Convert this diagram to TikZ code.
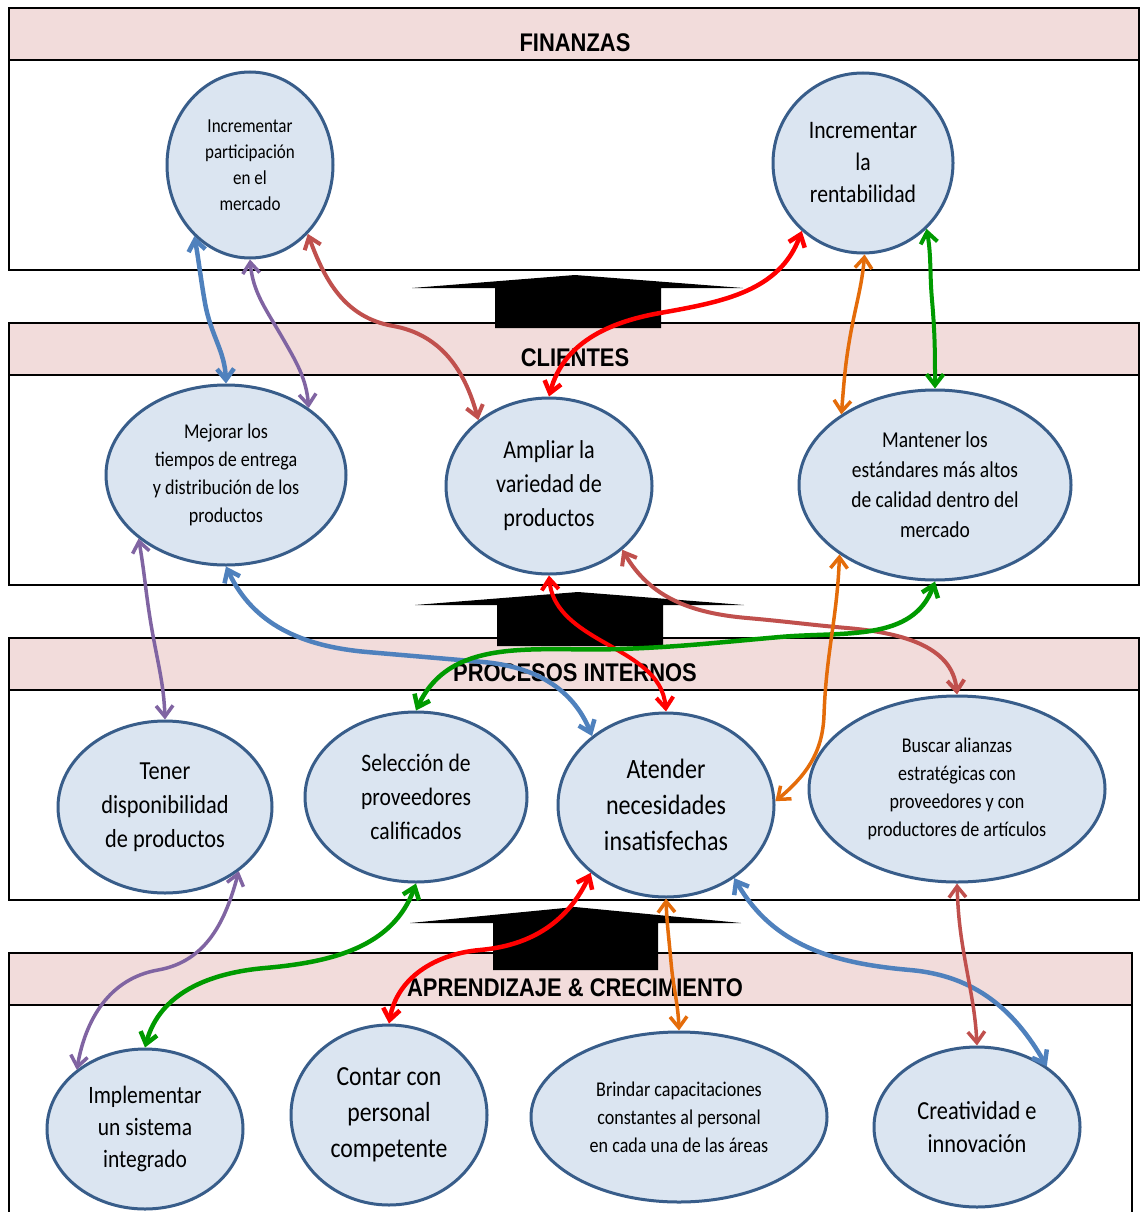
\documentclass[tikz,border=0pt]{standalone}
\usepackage{fontspec}
\setmainfont{Carlito}[FakeStretch=0.86]
\newfontfamily\hdrfont{Liberation Sans}[FakeStretch=0.86]
\usetikzlibrary{shapes.geometric,arrows.meta}
\definecolor{bandpink}{RGB}{242,220,219}
\definecolor{goalfill}{RGB}{219,229,241}
\definecolor{goalline}{RGB}{56,93,138}
\definecolor{cblue}{RGB}{79,129,189}
\definecolor{cpurple}{RGB}{128,100,162}
\definecolor{cdred}{RGB}{192,80,77}
\definecolor{cred}{RGB}{255,0,0}
\definecolor{corange}{RGB}{228,108,10}
\definecolor{cgreen}{RGB}{0,154,0}
\newcommand{\fs}[2]{\fontsize{#1}{#2}\selectfont}
\begin{document}
\begin{tikzpicture}[x=1pt,y=-1pt,
  goal/.style={ellipse,draw=goalline,fill=goalfill,line width=3pt,inner sep=0pt,align=center,text=black},
  band/.style={draw=black,line width=2.5pt},
  hdrtext/.style={font=\hdrfont\bfseries\fs{25.5}{25},inner sep=0pt},
  link/.style={line width=#1,line cap=round,
    arrows={Straight Barb[length=11pt,width=17pt]-Straight Barb[length=11pt,width=17pt]}},
]
\useasboundingbox (0,0) rectangle (1141,1212);
\fill[white] (0,0) rectangle (1141,1212);

% ---- perspective bands ----
\draw[band,fill=bandpink] (9,8) rectangle (1139,60);
\draw[band] (9,60) rectangle (1139,270);
\draw[band,fill=bandpink] (9,323) rectangle (1139,375);
\draw[band] (9,375) rectangle (1139,585);
\draw[band,fill=bandpink] (9,638) rectangle (1139,690);
\draw[band] (9,690) rectangle (1139,900);
\draw[band,fill=bandpink] (9,953) rectangle (1132,1005);
\draw[band] (9,1005) rectangle (1132,1230);

% ---- upward block arrows between bands ----
\fill[black] (412,288) -- (575,275) -- (743,288) -- (661,288) -- (661,328) -- (495,328) -- (495,288) -- cycle;
\fill[black] (415,605) -- (578,592) -- (744,605) -- (663,605) -- (663,646) -- (497,646) -- (497,605) -- cycle;
\fill[black] (410,923) -- (575,907) -- (741,923) -- (658,923) -- (658,970) -- (493,970) -- (493,923) -- cycle;

% ---- band titles ----
\node[hdrtext] (h1) at (575,43) {FINANZAS};
\node[hdrtext] (h2) at (575,358) {CLIENTES};
\node[hdrtext] (h3) at (575,673) {PROCESOS INTERNOS};
\node[hdrtext] (h4) at (575,988) {APRENDIZAJE \& CRECIMIENTO};

% ---- objectives ----
\node[goal,minimum width=166pt,minimum height=186pt,font=\fs{19.8}{26}] (e1) at (250,165)
  {Incrementar\\participación\\en el\\mercado};
\node[goal,minimum width=180pt,minimum height=180pt,font=\fs{25.2}{32}] (e2) at (863,163)
  {Incrementar\\la\\rentabilidad};
\node[goal,minimum width=240pt,minimum height=180pt,font=\fs{21}{28}] (e3) at (226,475)
  {Mejorar los\\tiempos de entrega\\y distribución de los\\productos};
\node[goal,minimum width=206pt,minimum height=176pt,font=\fs{25.8}{34}] (e4) at (549,486)
  {Ampliar la\\variedad de\\productos};
\node[goal,minimum width=272pt,minimum height=190pt,font=\fs{22.7}{30}] (e5) at (935,485)
  {Mantener los\\estándares más altos\\de calidad dentro del\\mercado};
\node[goal,minimum width=214pt,minimum height=172pt,font=\fs{26}{34}] (e6) at (165,807)
  {Tener\\disponibilidad\\de productos};
\node[goal,minimum width=222pt,minimum height=170pt,font=\fs{25.1}{34}] (e7) at (416,797)
  {Selección de\\proveedores\\calificados};
\node[goal,minimum width=216pt,minimum height=184pt,font=\fs{28}{36}] (e8) at (666,805)
  {Atender\\necesidades\\insatisfechas};
\node[goal,minimum width=296pt,minimum height=186pt,font=\fs{21}{28}] (e9) at (957,789)
  {Buscar alianzas\\estratégicas con\\proveedores y con\\productores de artículos};
\node[goal,minimum width=196pt,minimum height=160pt,font=\fs{25}{32}] (e10) at (145,1129)
  {Implementar\\un sistema\\integrado};
\node[goal,minimum width=196pt,minimum height=180pt,font=\fs{27.6}{36}] (e11) at (389,1115)
  {Contar con\\personal\\competente};
\node[goal,minimum width=296pt,minimum height=170pt,font=\fs{21}{28}] (e12) at (679,1117)
  {Brindar capacitaciones\\constantes al personal\\en cada una de las áreas};
\node[goal,minimum width=206pt,minimum height=160pt,font=\fs{26}{33}] (e13) at (977,1127)
  {Creatividad e\\innovación};

% ---- relations ----
% finanzas <-> clientes
\draw[link=4.5pt,cblue] (e1.232) to[out=-80,in=100] (205,303) to[out=-80,in=92] (e3.90);
\draw[link=3.5pt,cpurple] (e1.270) to[out=-85,in=120] (282,337) to[out=-60,in=95] (e3.39);
\draw[link=4pt,cdred] (e1.310) to[out=-70,in=170] (393,326) to[out=-10,in=105] (e4.137);
\draw[link=4.5pt,cred] (e2.228) to[out=-110,in=10] (660,313) to[out=-170,in=75] (e4.90);
\draw[link=3.5pt,corange] (e2.271) to[out=-95,in=80] (850,337) to[out=-100,in=85] (e5.143);
\draw[link=4pt,cgreen] (e2.314) to[out=-80,in=95] (932,300) to[out=-85,in=90] (e5.90);
% clientes <-> procesos internos
\draw[link=3.5pt,cpurple] (e3.216) to[out=-80,in=100] (152,630) to[out=-80,in=92] (e6.90);
\draw[link=4.5pt,cblue] (e3.270) to[out=-65,in=175] (367,652) to[out=-5,in=175] (483,662) to[out=-5,in=112] (e8.137);
\draw[link=4pt,cred] (e4.270) to[out=-85,in=150] (600,640) to[out=-30,in=95] (e8.90);
\draw[link=4pt,cdred] (e4.319) to[out=-60,in=175] (747,618) to[out=-5,in=175] (847,628) to[out=-5,in=95] (e9.90);
\draw[link=4.5pt,cgreen] (e5.270) to[out=-110,in=5] (780,637) to[out=185,in=2] (620,649) to[out=182,in=65] (e7.90);
\draw[link=3.5pt,corange] (e5.216) to[out=-92,in=88] (824,715) to[out=-92,in=40] (e8.2);
% procesos internos <-> aprendizaje
\draw[link=3.5pt,cpurple] (e6.319) to[out=-105,in=10] (158,970) to[out=190,in=80] (e10.139);
\draw[link=4.5pt,cgreen] (e7.270) to[out=-110,in=5] (265,968) to[out=185,in=75] (e10.90);
\draw[link=4.5pt,cred] (e8.222) to[out=-115,in=5] (480,950) to[out=185,in=80] (e11.90);
\draw[link=3.5pt,corange] (e8.270) to[out=-88,in=95] (671,962) to[out=-85,in=92] (e12.90);
\draw[link=4.5pt,cblue] (e8.313) to[out=-60,in=175] (910,970) to[out=-5,in=120] (e13.41);
\draw[link=3.5pt,cdred] (e9.270) to[out=-88,in=100] (965,960) to[out=-80,in=93] (e13.90);
\end{tikzpicture}
\end{document}
